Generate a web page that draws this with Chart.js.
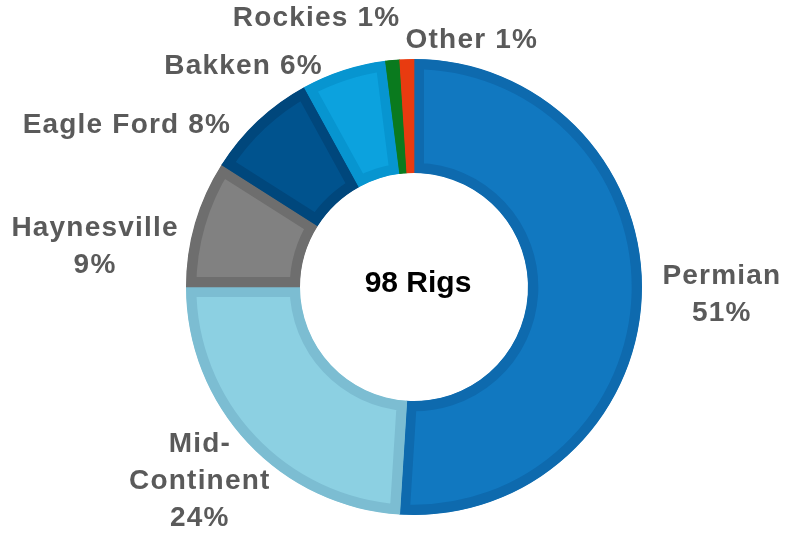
<!DOCTYPE html>
<html>
<head>
<meta charset="utf-8">
<script src="https://cdn.jsdelivr.net/npm/chart.js@4/dist/chart.umd.min.js"></script>
<style>
  html, body { margin: 0; padding: 0; background: #fff; }
  #wrap { width: 789px; height: 533px; }
</style>
</head>
<body>
<div id="wrap"><canvas id="rigs" width="789" height="533"></canvas></div>
<script>
// data
const regions = ['Permian', 'Mid-Continent', 'Haynesville', 'Eagle Ford', 'Bakken', 'Rockies', 'Other']
const rigShare = [51, 24, 9, 8, 6, 1, 1]
const totalRigs = 98

// how each label is wrapped: inline = one line, split = name / pct, hyphen = break at hyphen
const labelWrap = ['split', 'hyphen', 'split', 'inline', 'inline', 'inline', 'inline']

const fillColors = ['#1178c0', '#8cd0e2', '#818181', '#00538e', '#0ca2de', '#0a7a1e', '#e83b10']
const edgeColors = ['#0e6aae', '#7cbdd2', '#6e6e6e', '#00477c', '#0795d0', '#0a7a1e', '#e83b10']

// nudge of each label block from the slice's outer mid point
const labelNudge = [[80, 1], [-48, 38], [-100, 23], [-131, 4], [-100, -4], [-76, -42], [65, -19]]

function labelLines(i) {
    const name = regions[i]
    const pct = rigShare[i] + '%'
    if (labelWrap[i] === 'split') return [name, pct]
    if (labelWrap[i] === 'hyphen') {
        const parts = name.split('-')
        return [parts[0] + '-', parts[1], pct]
    }
    return [name + ' ' + pct]
}

const sliceLabels = {
    id: 'sliceLabels',
    afterDatasetsDraw(chart) {
        const ctx = chart.ctx
        const arcs = chart.getDatasetMeta(0).data
        ctx.save()
        ctx.font = 'bold 28px "Liberation Sans", Arial, sans-serif'
        ctx.letterSpacing = '1.2px'
        ctx.fillStyle = '#5a5a5a'
        ctx.textAlign = 'center'
        ctx.textBaseline = 'middle'
        const lineH = 37
        arcs.forEach((arc, i) => {
            const { x, y, startAngle, endAngle, outerRadius } = arc.getProps(['x', 'y', 'startAngle', 'endAngle', 'outerRadius'], true)
            const mid = (startAngle + endAngle) / 2
            const ax = x + Math.cos(mid) * outerRadius + labelNudge[i][0]
            const ay = y + Math.sin(mid) * outerRadius + labelNudge[i][1]
            const lines = labelLines(i)
            const top = ay - (lines.length - 1) * lineH / 2
            lines.forEach((line, k) => ctx.fillText(line, ax, top + k * lineH))
        })

        // centre text
        const c = arcs[0]
        ctx.letterSpacing = '0px'
        ctx.fillStyle = '#000'
        ctx.font = 'bold 30px "Liberation Sans", Arial, sans-serif'
        ctx.fillText(totalRigs + ' Rigs', c.x + 4, c.y - 3)
        ctx.restore()
    }
}

new Chart(document.getElementById('rigs'), {
    type: 'doughnut',
    data: {
        labels: regions,
        datasets: [{
            data: rigShare,
            backgroundColor: fillColors,
            borderColor: edgeColors,
            borderWidth: 10,
            borderAlign: 'inner',
            hoverOffset: 0
        }]
    },
    options: {
        responsive: false,
        animation: false,
        radius: 228,
        cutout: '50%',
        layout: {
            padding: { left: 230, right: 191, top: 56, bottom: 15 }
        },
        plugins: {
            legend: { display: false },
            tooltip: { enabled: false }
        }
    },
    plugins: [sliceLabels]
})
</script>
</body>
</html>
